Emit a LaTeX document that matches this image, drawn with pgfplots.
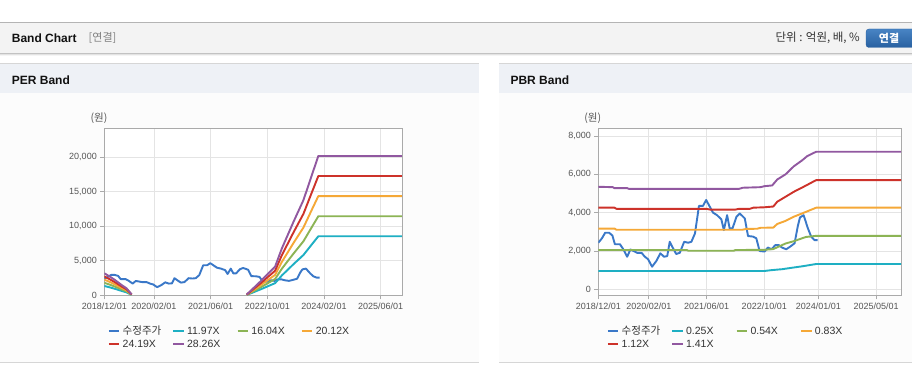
\documentclass[border=0pt]{standalone}
\usepackage{pgfplots}
\pgfplotsset{compat=1.18}
\usepackage{pgfplotstable}
\usepackage{fontspec}
\setmainfont{Liberation Sans}
\newfontfamily\kr{Noto Sans CJK KR}
\definecolor{hdrbg}{RGB}{243,243,243}
\definecolor{hdrline}{RGB}{180,180,180}
\definecolor{panelhdr}{RGB}{238,241,246}
\definecolor{panelbody}{RGB}{252,252,252}
\definecolor{panelline}{RGB}{214,214,214}
\definecolor{titletext}{RGB}{17,17,17}
\definecolor{darktext}{RGB}{51,51,51}
\definecolor{ticktext}{RGB}{85,85,85}
\definecolor{axisgray}{RGB}{170,170,170}
\definecolor{gridgray}{RGB}{228,228,228}
\definecolor{btntop}{RGB}{72,132,196}
\definecolor{btnbot}{RGB}{40,96,160}
\definecolor{cprice}{RGB}{58,120,200}
\definecolor{ccyan}{RGB}{30,175,195}
\definecolor{cgreen}{RGB}{140,180,85}
\definecolor{corange}{RGB}{245,168,55}
\definecolor{cred}{RGB}{205,50,42}
\definecolor{cpurple}{RGB}{145,88,160}

\pgfplotstableread{
x y
0 2430
1 2660
1.9 2950
3 2950
3.9 2810
4.6 2350
6 2350
6.9 2100
8 1700
8.9 2080
10.1 1970
10.8 1900
12 1900
12.9 1700
13.8 1570
14.9 1180
16.1 1480
17.2 1880
18.2 1700
19.1 1730
19.8 2480
20.7 2150
21.6 1840
22.6 1910
23.8 2480
24.9 2430
25.8 2480
26.8 2920
27.9 4350
29 4350
29.9 4660
30.9 4310
31.8 4000
32.9 3870
34.1 3650
34.8 3090
35.7 3870
36.4 3180
37.2 3180
38.3 3790
39.2 3960
40.6 3700
41.5 2780
42.9 2750
43.8 2660
44.7 2000
46.1 1970
47 2180
48 2090
49.1 2310
50 2310
50.9 2180
52.1 2090
53.2 2230
54.4 2400
55.3 3300
55.9 3750
56.9 3870
58.1 3180
59 2750
59.9 2570
60.8 2570
}\price

\pgfplotstableread{
x a b c d e
0 1352.6 1812.5 2273.6 2733.5 3193.4
1.6 1143.1 1531.8 1921.5 2310.1 2698.8
3.0 939.6 1259.1 1579.4 1898.9 2218.4
4.9 630.8 845.3 1060.3 1274.8 1489.3
6.3 423.7 567.8 712.2 856.3 1000.4
7.7 59.9 80.2 100.6 121.0 141.3
20 nan nan nan nan nan
40.2 47.9 64.2 80.5 96.8 113.0
44 837.9 1122.8 1408.4 1693.3 1978.2
48.2 1759.6 2357.9 2957.6 3555.9 4154.2
50.1 2872.8 3849.6 4828.8 5805.6 6782.4
53.4 4512.7 6047.1 7585.2 9119.6 10654.0
56.2 5841.4 7827.5 9818.6 11804.7 13790.9
58.1 7074.3 9479.6 11890.9 14296.3 16701.7
60.4 8552.6 11460.6 14375.7 17283.8 20191.8
84 8552.6 11460.6 14375.7 17283.8 20191.8
}\perband

\pgfplotstableread{
x y
0 955
46 955
48 1000
51 1050
53.5 1120
56.5 1200
60.4 1320
84 1320
}\pbra
\pgfplotstableread{
x y
0 2050
24.5 2050
25 2010
37.5 2010
38 2050
46 2060
48.5 2100
51.9 2390
54.2 2510
57.5 2730
60.4 2790
84 2790
}\pbrb
\pgfplotstableread{
x y
0 3170
4.5 3170
5 3110
40 3110
41 3150
44 3160
45 3210
48.5 3220
49.6 3410
51.9 3570
54.2 3790
56.5 3960
60.4 4260
84 4260
}\pbrc
\pgfplotstableread{
x y
0 4260
4.5 4260
5 4200
30 4200
31 4160
38 4160
39 4200
42 4200
43 4260
46 4280
48.5 4320
49.6 4570
51.9 4830
54.2 5090
56.5 5310
60.4 5700
84 5700
}\pbrd
\pgfplotstableread{
x y
0 5350
4 5330
4.5 5280
8 5280
8.5 5240
39 5240
40 5300
45 5330
46 5380
48.2 5420
49.6 5730
51.9 6000
54.2 6420
56.5 6730
57.9 6950
60.4 7180
84 7180
}\pbre

\pgfplotsset{
  bandaxis/.style={
    scale only axis,
    anchor=south west,
    height=167pt,
    scaled y ticks=false,
    scaled x ticks=false,
    axis line style={axisgray, line width=0.9pt},
    tick style={axisgray, line width=0.8pt},
    major tick length=4pt,
    tick align=outside,
    tick pos=left,
    grid=major,
    grid style={gridgray, line width=0.8pt},
    ticklabel style={font=\fontsize{9}{10}\selectfont, text=ticktext},
    xtick={0,14,30,46,62,78},
    unbounded coords=jump,
    legend columns=4,
    legend cell align=left,
    legend image code/.code={\draw[##1, line width=2.2pt] (0pt,0pt) -- (10.5pt,0pt);},
    every axis plot/.append style={line width=1.9pt, no marks, line join=round},
    legend style={
      anchor=north west, draw=none, fill=none, inner sep=0pt, outer sep=0pt,
      column sep=0pt, row sep=5.7pt,
      font=\fontsize{10.5}{12}\selectfont, text=darktext,
      nodes={inner xsep=0pt, inner ysep=0pt, text width=49.4pt, text height=7.6pt, text depth=0pt},
      /tikz/every odd column/.append style={column sep=2.3pt},
    },
  }
}

\begin{document}
\begin{tikzpicture}[x=1pt,y=1pt]
\useasboundingbox (0,0) rectangle (912,364);
\fill[white] (0,0) rectangle (912,364);
% header bar
\fill[hdrbg] (0,311) rectangle (912,342);
\draw[hdrline, line width=1pt] (0,341.8) -- (912,341.8);
\fill[black!24] (0,310.3) rectangle (912,311.3);
\fill[black!11] (0,309.3) rectangle (912,310.3);
\fill[black!4] (0,308.3) rectangle (912,309.3);
\node[anchor=west, inner sep=0pt, font=\fontsize{12}{14}\selectfont\bfseries, text=titletext] at (11.7,325.7) {Band Chart};
\node[anchor=west, inner sep=0pt, font=\kr\fontsize{11}{12}\selectfont, text=black!50] at (88.5,325.7) {[연결]};
\node[anchor=east, inner sep=0pt, font=\kr\fontsize{11.5}{13}\selectfont, text=darktext] at (860,325.7) {단위 : 억원, 배, \%};
\shade[rounded corners=3pt, top color=btntop, bottom color=btnbot, draw=btnbot] (866,316.5) rectangle (916,335);
\node[inner sep=0pt, font=\kr\bfseries\fontsize{11}{12}\selectfont, text=white] at (889,325.7) {연결};
% panels
\fill[panelbody] (0,1.3) rectangle (479,271.3);
\fill[panelbody] (499,1.3) rectangle (912,271.3);
\fill[panelhdr] (0,271.3) rectangle (479,300);
\fill[panelhdr] (499,271.3) rectangle (912,300);
\draw[panelline, line width=1pt] (0,300) -- (479,300);
\draw[panelline, line width=1pt] (499,300) -- (912,300);
\draw[panelline, line width=1pt] (0,1.3) -- (479,1.3);
\draw[panelline, line width=1pt] (499,1.3) -- (912,1.3);
\node[anchor=west, inner sep=0pt, font=\fontsize{12}{14}\selectfont\bfseries, text=titletext] at (11.7,284) {PER Band};
\node[anchor=west, inner sep=0pt, font=\fontsize{12}{14}\selectfont\bfseries, text=titletext] at (510.3,284) {PBR Band};
\node[inner sep=0pt, font=\kr\fontsize{10.5}{12}\selectfont, text=ticktext] at (99,246) {(원)};
\node[inner sep=0pt, font=\kr\fontsize{10.5}{12}\selectfont, text=ticktext] at (592.8,246) {(원)};

% PER axis
\begin{axis}[bandaxis,
  at={(104.3pt,68.7pt)}, width=298pt,
  xmin=0, xmax=84.1, ymin=0, ymax=24200,
  xticklabels={2018/12/01,2020/02/01,2021/06/01,2022/10/01,2024/02/01,2025/06/01},
  ytick={0,5000,10000,15000,20000},
  yticklabels={0,{5,000},{10,000},{15,000},{20,000}},
  axis background/.style={fill=white},
  legend style={at={(axis description cs:0.0114,-0.189)}},
]
\addplot[cprice] table[x=x,y=y] {\price};
\addlegendentry{\kr 수정주가}
\addplot[ccyan] table[x=x,y=a] {\perband};
\addlegendentry{11.97X}
\addplot[cgreen] table[x=x,y=b] {\perband};
\addlegendentry{16.04X}
\addplot[corange] table[x=x,y=c] {\perband};
\addlegendentry{20.12X}
\addplot[cred] table[x=x,y=d] {\perband};
\addlegendentry{24.19X}
\addplot[cpurple] table[x=x,y=e] {\perband};
\addlegendentry{28.26X}
\end{axis}

% PBR axis
\begin{axis}[bandaxis,
  at={(598.3pt,68.7pt)}, width=302.7pt,
  xmin=0, xmax=83.9, ymin=-313, ymax=8402,
  xtick={0,14,30,46,61,77},
  xticklabels={2018/12/01,2020/02/01,2021/06/01,2022/10/01,2024/01/01,2025/05/01},
  ytick={0,2000,4000,6000,8000},
  yticklabels={0,{2,000},{4,000},{6,000},{8,000}},
  axis background/.style={fill=white},
  legend style={at={(axis description cs:0.0278,-0.189)}},
]
\addplot[cprice] table[x=x,y=y] {\price};
\addlegendentry{\kr 수정주가}
\addplot[ccyan] table[x=x,y=y] {\pbra};
\addlegendentry{0.25X}
\addplot[cgreen] table[x=x,y=y] {\pbrb};
\addlegendentry{0.54X}
\addplot[corange] table[x=x,y=y] {\pbrc};
\addlegendentry{0.83X}
\addplot[cred] table[x=x,y=y] {\pbrd};
\addlegendentry{1.12X}
\addplot[cpurple] table[x=x,y=y] {\pbre};
\addlegendentry{1.41X}
\end{axis}
\end{tikzpicture}
\end{document}
